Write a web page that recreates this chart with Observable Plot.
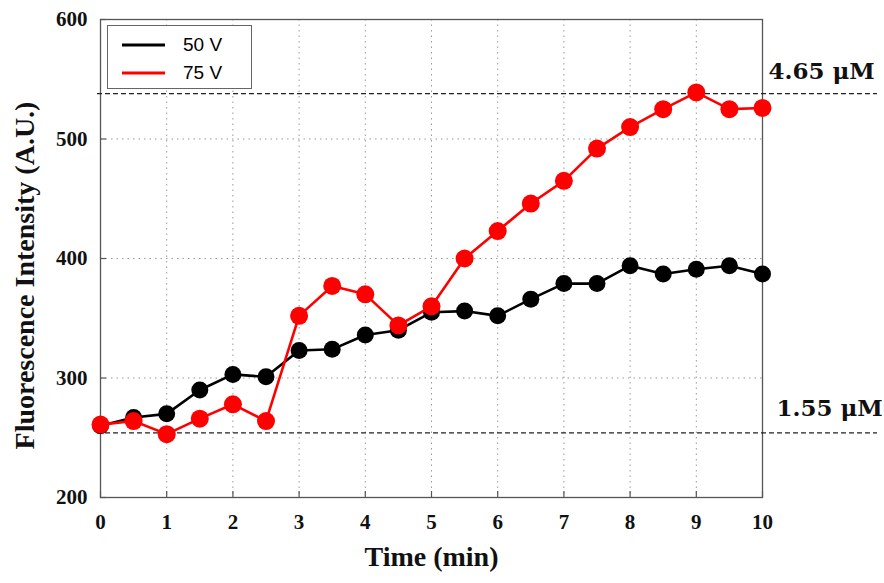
<!DOCTYPE html>
<html>
<head>
<meta charset="utf-8">
<script src="https://cdn.jsdelivr.net/npm/d3@7"></script>
<script src="https://cdn.jsdelivr.net/npm/@observablehq/plot@0.6"></script>
<style>
  html, body { margin: 0; padding: 0; background: #fff; }
  #wrap { position: relative; width: 884px; height: 583px; }
  #legend {
    position: absolute; left: 107px; top: 25px; width: 145px; height: 64px;
    border: 1px solid #666; background: #fff; box-sizing: border-box;
    font-family: "Liberation Sans", Arial, sans-serif; font-size: 19px; color: #000;
  }
  .li { position: absolute; left: 14px; height: 20px; display: flex; align-items: center; }
  .li svg { margin-right: 18px; }
</style>
</head>
<body>
<div id="wrap"></div>
<script>
// ---- data ----
const times = [0, 0.5, 1, 1.5, 2, 2.5, 3, 3.5, 4, 4.5, 5, 5.5, 6, 6.5, 7, 7.5, 8, 8.5, 9, 9.5, 10];
const v50 = [260, 267, 270, 290, 303, 301, 323, 324, 336, 340, 355, 356, 352, 366, 379, 379, 394, 387, 391, 394, 387];
const v75 = [261, 264, 253, 266, 278, 264, 352, 377, 370, 344, 360, 400, 423, 446, 465, 492, 510, 525, 539, 525, 526];
const seriesNames = ["50 V", "75 V"];
const seriesColors = ["#000000", "#ff0000"];
const refValues = [538, 254];
const refLabels = ["4.65 μM", "1.55 μM"];
const xTicks = [0, 1, 2, 3, 4, 5, 6, 7, 8, 9, 10];
const yTicks = [200, 300, 400, 500, 600];
const xLabel = "Time (min)";
const yLabel = "Fluorescence Intensity (A.U.)";

const rows50 = times.map((t, i) => ({t, v: v50[i]}));
const rows75 = times.map((t, i) => ({t, v: v75[i]}));
const refs = refValues.map((v, i) => ({v, label: refLabels[i]}));

const W = 884, H = 583, mL = 100, mR = 122, mT = 19, mB = 86;
const innerW = W - mL - mR, innerH = H - mT - mB;
const serif = "'Liberation Serif', 'Times New Roman', serif";
const refSerif = "'DejaVu Serif', serif";
// dashed reference lines run past the frame to the right edge area
const xPerPx = 10 / innerW;
const refX1 = -3 * xPerPx, refX2 = 10 + 115 * xPerPx;

const chart = Plot.plot({
  width: W, height: H,
  marginLeft: mL, marginRight: mR, marginTop: mT, marginBottom: mB,
  x: {domain: [0, 10], label: null},
  y: {domain: [200, 600], label: null},
  style: {fontFamily: serif, background: "#fff", overflow: "visible"},
  marks: [
    // dotted grid
    Plot.ruleX(xTicks.slice(1, -1), {stroke: "#9a9a9a", strokeWidth: 1, strokeDasharray: "1.5,4"}),
    Plot.ruleY(yTicks.slice(1, -1), {stroke: "#9a9a9a", strokeWidth: 1, strokeDasharray: "1.5,4"}),
    // frame
    Plot.frame({stroke: "#555", strokeWidth: 1.3}),
    // inward ticks
    Plot.tickX(xTicks, {x: d => d, stroke: "#555", strokeWidth: 1.2, insetTop: innerH - 6}),
    Plot.tickY(yTicks, {y: d => d, stroke: "#555", strokeWidth: 1.2, insetRight: innerW - 6}),
    // axes labels
    Plot.axisX(xTicks, {label: null, tickSize: 0, tickPadding: 17, fontSize: 21, fontWeight: "bold", fill: "#111"}),
    Plot.axisY(yTicks, {label: null, tickSize: 0, tickPadding: 13, fontSize: 21, fontWeight: "bold", fill: "#111"}),
    Plot.text([xLabel], {frameAnchor: "bottom", dy: 60, fontSize: 28, fontWeight: "bold", fill: "#111", textAnchor: "middle", lineAnchor: "middle"}),
    Plot.text([yLabel], {frameAnchor: "left", rotate: -90, dx: -75, dy: 17, fontSize: 28, fontWeight: "bold", fill: "#111", textAnchor: "middle", lineAnchor: "middle"}),
    // reference dashed lines
    Plot.ruleY(refs, {y: "v", x1: refX1, x2: refX2, stroke: "#222", strokeWidth: 1.3, strokeDasharray: "5,3"}),
    Plot.text(refs.slice(0, 1), {x: 10, y: "v", text: "label", dx: 6, dy: -22, textAnchor: "start", lineAnchor: "middle", fontFamily: refSerif, fontSize: 23, fontWeight: "bold", fill: "#111"}),
    Plot.text(refs.slice(1, 2), {x: 10, y: "v", text: "label", dx: 14, dy: -24, textAnchor: "start", lineAnchor: "middle", fontFamily: refSerif, fontSize: 23, fontWeight: "bold", fill: "#111"}),
    // series
    Plot.line(rows50, {x: "t", y: "v", stroke: seriesColors[0], strokeWidth: 2.6}),
    Plot.dot(rows50, {x: "t", y: "v", r: 8.5, fill: seriesColors[0], stroke: "none"}),
    Plot.line(rows75, {x: "t", y: "v", stroke: seriesColors[1], strokeWidth: 2.6}),
    Plot.dot(rows75, {x: "t", y: "v", r: 9, fill: seriesColors[1], stroke: "none"})
  ]
});

const wrap = document.getElementById("wrap");
wrap.appendChild(chart);

// legend
const legend = document.createElement("div");
legend.id = "legend";
seriesNames.forEach((name, i) => {
  const item = document.createElement("div");
  item.className = "li";
  item.style.top = (9 + i * 28) + "px";
  item.innerHTML = `<svg width="43" height="6"><line x1="0" y1="3" x2="43" y2="3" stroke="${seriesColors[i]}" stroke-width="3"/></svg><span>${name}</span>`;
  legend.appendChild(item);
});
wrap.appendChild(legend);
</script>
</body>
</html>
